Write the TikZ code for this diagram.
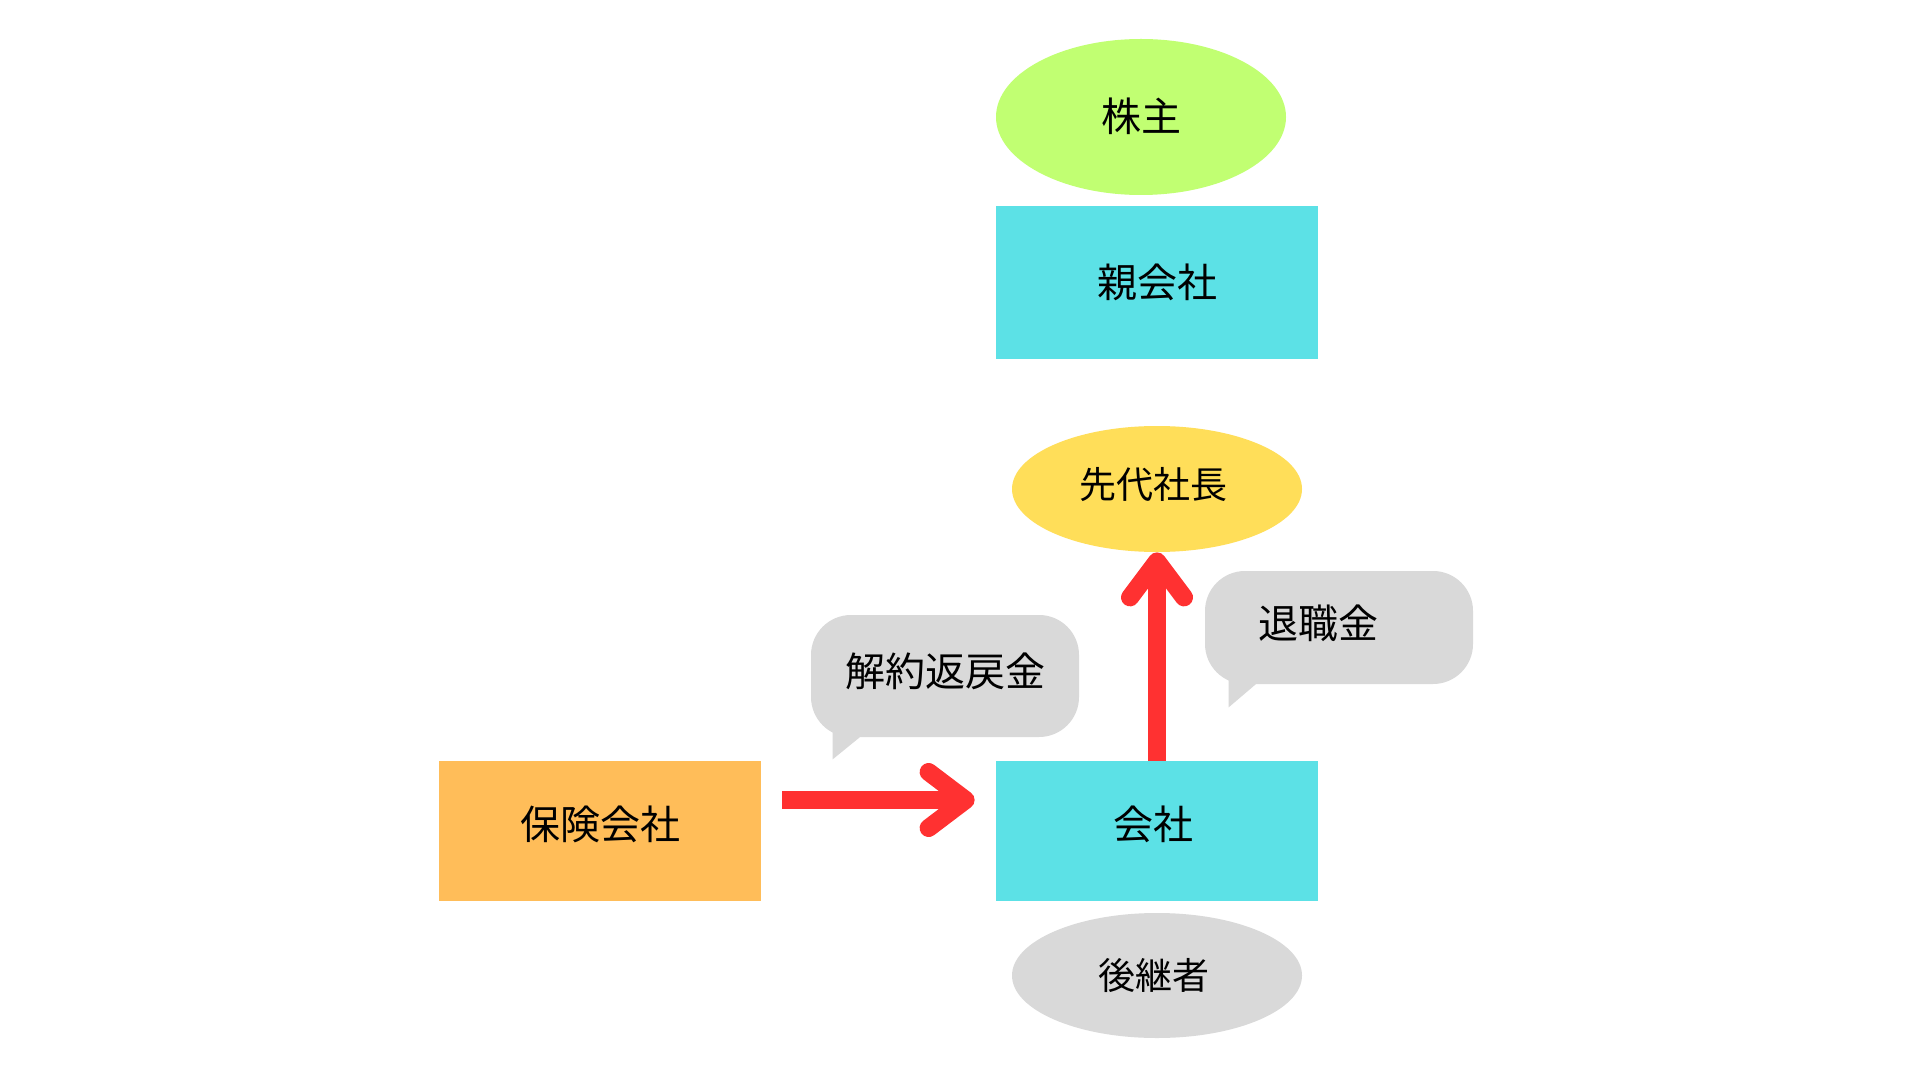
\documentclass[tikz,border=0pt]{standalone}
\usepackage{fontspec}
\newfontfamily\jpfont{Noto Sans CJK JP}
\usetikzlibrary{shapes.geometric,calc}
\definecolor{cGreen}{HTML}{C1FF72}
\definecolor{cCyan}{HTML}{5CE1E6}
\definecolor{cYellow}{HTML}{FFDE59}
\definecolor{cOrange}{HTML}{FFBD59}
\definecolor{cGray}{HTML}{D9D9D9}
\definecolor{cRed}{HTML}{FF3131}
\newcommand{\liftby}[2]{\raisebox{#1}[\height][\depth]{#2}}
\begin{document}
\begin{tikzpicture}[x=0.5pt,y=-0.5pt,
  txt/.style={font=\jpfont\fontsize{20pt}{24pt}\selectfont, text=black, inner sep=0pt},
  smalltxt/.style={font=\jpfont\fontsize{18.5pt}{22pt}\selectfont},
  oval/.style={txt, ellipse, minimum width=145pt, minimum height=63pt},
  box/.style={txt, rectangle, minimum width=161pt, minimum height=70pt},
  bubble/.style={txt, rectangle, rounded corners=20pt, fill=cGray, minimum width=134pt},
  tail/.style={fill=cGray},
  shaft/.style={draw=cRed, line width=9pt},
  barb/.style={draw=cRed, line width=9pt, line cap=round, line join=round}]

\fill[white] (0,0) rectangle (1920,1080);
\useasboundingbox (0,0) rectangle (1920,1080);

% shapes
\node[oval, fill=cGreen, minimum height=78pt] (kabu) at (1141,117) {\liftby{0.5pt}{株主}};
\node[box, fill=cCyan, minimum height=76.5pt] (oya) at (1157,282.5) {親会社};
\node[oval, smalltxt, fill=cYellow] (sendai) at (1157,489) {\liftby{2pt}{先代社長}\kern4pt};
\node[box, fill=cCyan] (kaisha) at (1157,831) {\liftby{3.5pt}{会社}\kern4pt};
\node[box, fill=cOrange] (hoken) at (600,831) {\liftby{3.5pt}{保険会社}};
\node[oval, smalltxt, fill=cGray, minimum height=62.5pt] (koukei) at (1157,975.5) {後継者\kern3pt};

% speech bubbles
\node[bubble, minimum height=61pt] (b1) at (945,676) {\liftby{2.5pt}{解約返戻金}};
\fill[tail] ($(b1.south west)+(22,-16)$) -- ($(b1.south west)+(22,22)$)
  -- ($(b1.south west)+(49,0)$) -- ($(b1.south west)+(60,-16)$) -- cycle;
\node[bubble, minimum height=56.5pt, text width=81pt, align=left, inner xsep=26.5pt] (b2) at (1339,627.5) {\liftby{2pt}{退職金}};
\fill[tail] ($(b2.south west)+(24,-14)$) -- ($(b2.south west)+(24,23)$)
  -- ($(b2.south west)+(51,0)$) -- ($(b2.south west)+(62,-14)$) -- cycle;

% horizontal arrow: insurance company -> company
\coordinate (h0) at ([shift={(21,-31)}]hoken.east);
\coordinate (h1) at ([shift={(-21,-31)}]kaisha.west);
\draw[shaft] (h0) -- ($(h1)+(-14,0)$);
\draw[barb] ($(h1)+(-46,-28)$) -- ($(h1)+(-9,0)$) -- ($(h1)+(-46,28)$);

% vertical arrow: company -> former president
\draw[shaft] (kaisha.north) -- ($(sendai.south)+(0,14)$);
\draw[barb] ($(sendai.south)+(-27,45)$) -- ($(sendai.south)+(0,9)$) -- ($(sendai.south)+(27,45)$);
\end{tikzpicture}
\end{document}
